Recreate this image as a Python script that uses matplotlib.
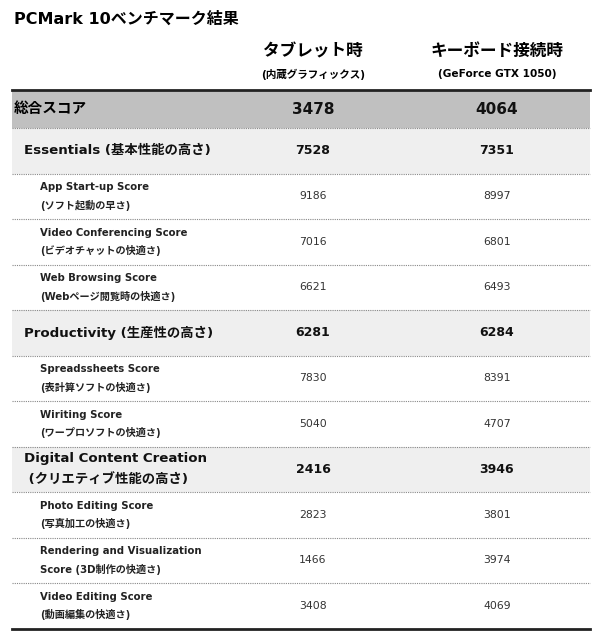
import matplotlib.pyplot as plt
from matplotlib.patches import Rectangle

plt.rcParams['font.family'] = ['DejaVu Sans', 'Noto Sans CJK JP']

title = "PCMark 10ベンチマーク結果"
col_titles = ["タブレット時", "キーボード接続時"]
col_subtitles = ["(内蔵グラフィックス)", "(GeForce GTX 1050)"]

# row kind: total / group / item
row_kinds = ["total", "group", "item", "item", "item",
             "group", "item", "item",
             "group", "item", "item", "item"]
row_labels = [
    ("総合スコア",),
    ("Essentials (基本性能の高さ)",),
    ("App Start-up Score", "(ソフト起動の早さ)"),
    ("Video Conferencing Score", "(ビデオチャットの快適さ)"),
    ("Web Browsing Score", "(Webページ閲覧時の快適さ)"),
    ("Productivity (生産性の高さ)",),
    ("Spreadssheets Score", "(表計算ソフトの快適さ)"),
    ("Wiriting Score", "(ワープロソフトの快適さ)"),
    ("Digital Content Creation", " (クリエティブ性能の高さ)"),
    ("Photo Editing Score", "(写真加工の快適さ)"),
    ("Rendering and Visualization", "Score (3D制作の快適さ)"),
    ("Video Editing Score", "(動画編集の快適さ)"),
]
tablet = [3478, 7528, 9186, 7016, 6621, 6281, 7830, 5040, 2416, 2823, 1466, 3408]
keyboard = [4064, 7351, 8997, 6801, 6493, 6284, 8391, 4707, 3946, 3801, 3974, 4069]

fig = plt.figure(figsize=(6.0, 6.41), dpi=100)
ax = fig.add_axes([0, 0, 1, 1])
ax.set_xlim(0, 600)
ax.set_ylim(641, 0)
ax.axis('off')

x0, x1 = 12, 590
col_x = [313, 497]

ax.text(14, 19, title, fontsize=11.5, fontweight='bold', va='center', ha='left')
for cx, t, s in zip(col_x, col_titles, col_subtitles):
    ax.text(cx, 51, t, fontsize=12, fontweight='bold', ha='center', va='center')
    ax.text(cx, 74, s, fontsize=7.6, fontweight='bold', ha='center', va='center')

heights = {"total": 38, "group": 45.5, "item": 45.5}
y = 90
tops = []
for kind in row_kinds:
    tops.append(y)
    y += heights[kind]
bottom = y

for i, kind in enumerate(row_kinds):
    top = tops[i]
    h = heights[kind]
    mid = top + h / 2
    lab = row_labels[i]
    if kind == "total":
        ax.add_patch(Rectangle((x0, top), x1 - x0, h, color='#c0c0c0', lw=0))
        ax.text(14, mid, lab[0], fontsize=10.5, fontweight='bold', va='center')
        fs, fw, color = 11, 'bold', '#111111'
    elif kind == "group":
        ax.add_patch(Rectangle((x0, top), x1 - x0, h, color='#efefef', lw=0))
        if len(lab) == 1:
            ax.text(24, mid, lab[0], fontsize=9.6, fontweight='bold',
                    va='center', color='#111111')
        else:
            ax.text(24, mid - 11, lab[0], fontsize=9.6, fontweight='bold',
                    va='center', color='#111111')
            ax.text(24, mid + 11, lab[1], fontsize=9.6, fontweight='bold',
                    va='center', color='#111111')
        fs, fw, color = 9, 'bold', '#111111'
    else:
        ax.text(40, mid - 9, lab[0], fontsize=7.3, fontweight='bold',
                va='center', color='#222222')
        ax.text(40, mid + 9, lab[1], fontsize=7.3, fontweight='bold',
                va='center', color='#222222')
        fs, fw, color = 7.8, 'normal', '#333333'
    ax.text(col_x[0], mid, str(tablet[i]), fontsize=fs, fontweight=fw,
            ha='center', va='center', color=color)
    ax.text(col_x[1], mid, str(keyboard[i]), fontsize=fs, fontweight=fw,
            ha='center', va='center', color=color)
    if i > 0:
        ax.plot([x0, x1], [top, top], color='#888888', lw=0.8, ls=(0, (1, 1)))

ax.plot([x0, x1], [90, 90], color='#222222', lw=2)
ax.plot([x0, x1], [bottom, bottom], color='#222222', lw=2)

plt.savefig('out.png', dpi=100)
